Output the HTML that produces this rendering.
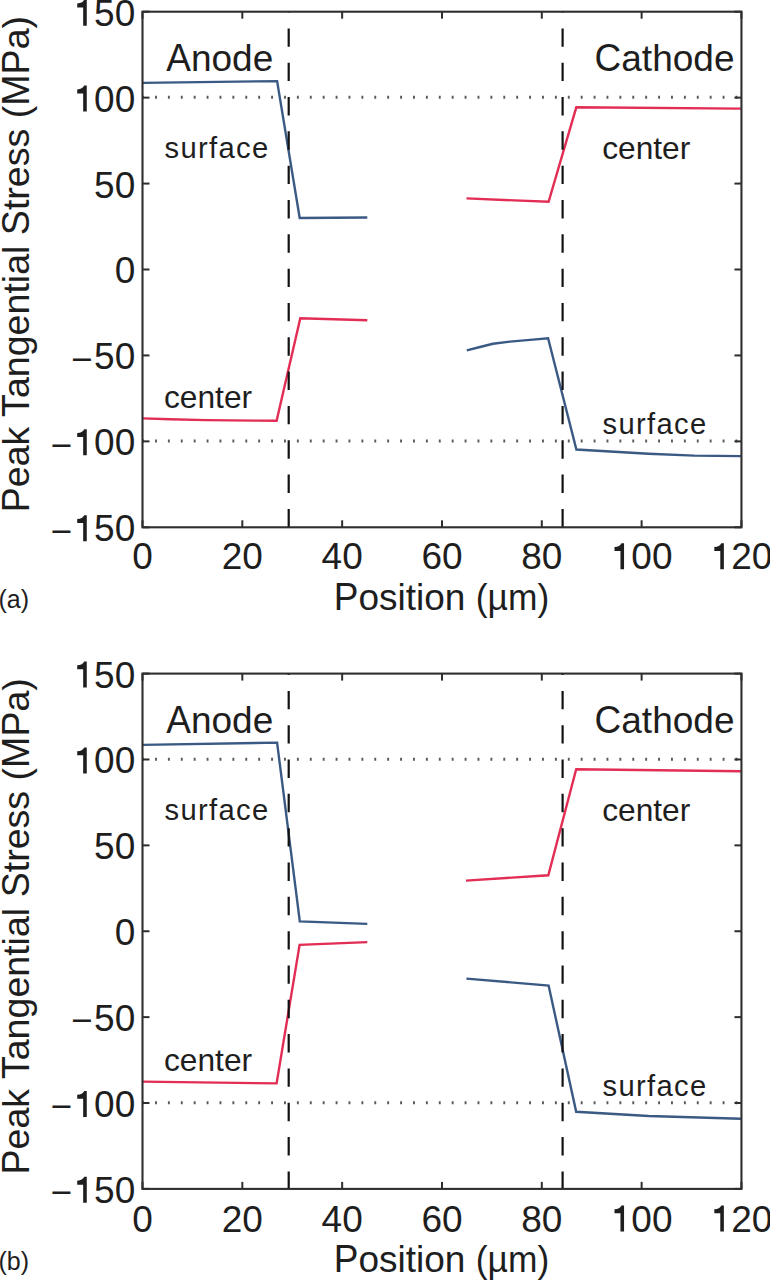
<!DOCTYPE html>
<html><head><meta charset="utf-8"><title>Peak Tangential Stress</title>
<style>
html,body{margin:0;padding:0;background:#fff;}
body{width:770px;height:1280px;overflow:hidden;}
svg{display:block;font-family:"Liberation Sans",sans-serif;fill:#000;}
svg text{fill:#1e1e1e;}
</style></head><body>
<svg width="770" height="1280" viewBox="0 0 770 1280">
<rect width="770" height="1280" fill="#fff"/>
<line x1="142.11" y1="97.33" x2="741.45" y2="97.33" stroke="#5a5a5a" stroke-width="3" stroke-dasharray="1.9 11"/>
<line x1="142.11" y1="441.07" x2="741.45" y2="441.07" stroke="#5a5a5a" stroke-width="3" stroke-dasharray="1.9 11"/>
<clipPath id="c0"><rect x="142.5" y="11.7" width="598.95" height="515.5999999999999"/></clipPath>
<path d="M142.4,82.9 L277.1,81.1 L299.7,218.0 L367.3,217.5" fill="none" stroke="#3a5a84" stroke-width="2.4" stroke-linejoin="miter"/>
<path d="M142.4,418.4 L170.0,419.3 L206.0,420.1 L256.0,420.6 L276.6,420.8 L300.3,318.2 L367.3,320.2" fill="none" stroke="#e22d55" stroke-width="2.4" stroke-linejoin="miter"/>
<path d="M466.5,198.4 L548.6,201.8 L576.3,107.3 L740.9,108.6" fill="none" stroke="#e22d55" stroke-width="2.4" stroke-linejoin="miter"/>
<path d="M466.8,350.3 L480.0,347.0 L493.0,343.8 L510.0,341.6 L530.0,339.9 L548.1,338.3 L576.4,449.5 L648.6,453.7 L694.3,455.6 L740.9,456.1" fill="none" stroke="#3a5a84" stroke-width="2.4" stroke-linejoin="miter"/>
<line x1="288.7" y1="-5.92" x2="288.7" y2="527.30" stroke="#111" stroke-width="2.2" stroke-dasharray="18.4 15.92" clip-path="url(#c0)"/>
<line x1="562.6" y1="-5.92" x2="562.6" y2="527.30" stroke="#111" stroke-width="2.2" stroke-dasharray="18.4 15.92" clip-path="url(#c0)"/>
<rect x="142.5" y="11.7" width="598.95" height="515.60" fill="none" stroke="#2e2e2e" stroke-width="2.1"/>
<line x1="142.50" y1="527.3" x2="142.50" y2="520.3" stroke="#2e2e2e" stroke-width="2"/>
<line x1="142.50" y1="11.7" x2="142.50" y2="18.7" stroke="#2e2e2e" stroke-width="2"/>
<line x1="142.5" y1="527.30" x2="149.5" y2="527.30" stroke="#2e2e2e" stroke-width="2"/>
<line x1="741.45" y1="527.30" x2="734.45" y2="527.30" stroke="#2e2e2e" stroke-width="2"/>
<line x1="242.32" y1="527.3" x2="242.32" y2="520.3" stroke="#2e2e2e" stroke-width="2"/>
<line x1="242.32" y1="11.7" x2="242.32" y2="18.7" stroke="#2e2e2e" stroke-width="2"/>
<line x1="142.5" y1="441.37" x2="149.5" y2="441.37" stroke="#2e2e2e" stroke-width="2"/>
<line x1="741.45" y1="441.37" x2="734.45" y2="441.37" stroke="#2e2e2e" stroke-width="2"/>
<line x1="342.15" y1="527.3" x2="342.15" y2="520.3" stroke="#2e2e2e" stroke-width="2"/>
<line x1="342.15" y1="11.7" x2="342.15" y2="18.7" stroke="#2e2e2e" stroke-width="2"/>
<line x1="142.5" y1="355.43" x2="149.5" y2="355.43" stroke="#2e2e2e" stroke-width="2"/>
<line x1="741.45" y1="355.43" x2="734.45" y2="355.43" stroke="#2e2e2e" stroke-width="2"/>
<line x1="441.98" y1="527.3" x2="441.98" y2="520.3" stroke="#2e2e2e" stroke-width="2"/>
<line x1="441.98" y1="11.7" x2="441.98" y2="18.7" stroke="#2e2e2e" stroke-width="2"/>
<line x1="142.5" y1="269.50" x2="149.5" y2="269.50" stroke="#2e2e2e" stroke-width="2"/>
<line x1="741.45" y1="269.50" x2="734.45" y2="269.50" stroke="#2e2e2e" stroke-width="2"/>
<line x1="541.80" y1="527.3" x2="541.80" y2="520.3" stroke="#2e2e2e" stroke-width="2"/>
<line x1="541.80" y1="11.7" x2="541.80" y2="18.7" stroke="#2e2e2e" stroke-width="2"/>
<line x1="142.5" y1="183.57" x2="149.5" y2="183.57" stroke="#2e2e2e" stroke-width="2"/>
<line x1="741.45" y1="183.57" x2="734.45" y2="183.57" stroke="#2e2e2e" stroke-width="2"/>
<line x1="641.62" y1="527.3" x2="641.62" y2="520.3" stroke="#2e2e2e" stroke-width="2"/>
<line x1="641.62" y1="11.7" x2="641.62" y2="18.7" stroke="#2e2e2e" stroke-width="2"/>
<line x1="142.5" y1="97.63" x2="149.5" y2="97.63" stroke="#2e2e2e" stroke-width="2"/>
<line x1="741.45" y1="97.63" x2="734.45" y2="97.63" stroke="#2e2e2e" stroke-width="2"/>
<line x1="741.45" y1="527.3" x2="741.45" y2="520.3" stroke="#2e2e2e" stroke-width="2"/>
<line x1="741.45" y1="11.7" x2="741.45" y2="18.7" stroke="#2e2e2e" stroke-width="2"/>
<line x1="142.5" y1="11.70" x2="149.5" y2="11.70" stroke="#2e2e2e" stroke-width="2"/>
<line x1="741.45" y1="11.70" x2="734.45" y2="11.70" stroke="#2e2e2e" stroke-width="2"/>
<path d="M0.262,0 L0.359,0 L0.359,0.703 L0.290,0.703 C0.262,0.640 0.200,0.608 0.101,0.600 L0.101,0.492 L0.262,0.492 Z" transform="translate(73.48,541.25) scale(37.0,-37.0)" fill="#1e1e1e"/>
<text x="94.06" y="541.25" font-size="37.0">5</text>
<text x="114.63" y="541.25" font-size="37.0">0</text>
<text x="72.08" y="543.65" text-anchor="end" font-size="37.0">−</text>
<text x="132.21" y="569.30" font-size="37.0">0</text>
<path d="M0.262,0 L0.359,0 L0.359,0.703 L0.290,0.703 C0.262,0.640 0.200,0.608 0.101,0.600 L0.101,0.492 L0.262,0.492 Z" transform="translate(73.48,455.31) scale(37.0,-37.0)" fill="#1e1e1e"/>
<text x="94.06" y="455.31" font-size="37.0">0</text>
<text x="114.63" y="455.31" font-size="37.0">0</text>
<text x="72.08" y="457.71" text-anchor="end" font-size="37.0">−</text>
<text x="221.75" y="569.30" font-size="37.0">2</text>
<text x="242.32" y="569.30" font-size="37.0">0</text>
<text x="94.06" y="369.38" font-size="37.0">5</text>
<text x="114.63" y="369.38" font-size="37.0">0</text>
<text x="92.66" y="371.78" text-anchor="end" font-size="37.0">−</text>
<text x="321.58" y="569.30" font-size="37.0">4</text>
<text x="342.15" y="569.30" font-size="37.0">0</text>
<text x="114.63" y="283.45" font-size="37.0">0</text>
<text x="421.40" y="569.30" font-size="37.0">6</text>
<text x="441.98" y="569.30" font-size="37.0">0</text>
<text x="94.06" y="197.51" font-size="37.0">5</text>
<text x="114.63" y="197.51" font-size="37.0">0</text>
<text x="521.23" y="569.30" font-size="37.0">8</text>
<text x="541.80" y="569.30" font-size="37.0">0</text>
<path d="M0.262,0 L0.359,0 L0.359,0.703 L0.290,0.703 C0.262,0.640 0.200,0.608 0.101,0.600 L0.101,0.492 L0.262,0.492 Z" transform="translate(73.48,111.58) scale(37.0,-37.0)" fill="#1e1e1e"/>
<text x="94.06" y="111.58" font-size="37.0">0</text>
<text x="114.63" y="111.58" font-size="37.0">0</text>
<path d="M0.262,0 L0.359,0 L0.359,0.703 L0.290,0.703 C0.262,0.640 0.200,0.608 0.101,0.600 L0.101,0.492 L0.262,0.492 Z" transform="translate(610.77,569.30) scale(37.0,-37.0)" fill="#1e1e1e"/>
<text x="631.34" y="569.30" font-size="37.0">0</text>
<text x="651.91" y="569.30" font-size="37.0">0</text>
<path d="M0.262,0 L0.359,0 L0.359,0.703 L0.290,0.703 C0.262,0.640 0.200,0.608 0.101,0.600 L0.101,0.492 L0.262,0.492 Z" transform="translate(73.48,25.65) scale(37.0,-37.0)" fill="#1e1e1e"/>
<text x="94.06" y="25.65" font-size="37.0">5</text>
<text x="114.63" y="25.65" font-size="37.0">0</text>
<path d="M0.262,0 L0.359,0 L0.359,0.703 L0.290,0.703 C0.262,0.640 0.200,0.608 0.101,0.600 L0.101,0.492 L0.262,0.492 Z" transform="translate(710.59,569.30) scale(37.0,-37.0)" fill="#1e1e1e"/>
<text x="731.16" y="569.30" font-size="37.0">2</text>
<text x="751.74" y="569.30" font-size="37.0">0</text>
<text x="333.8" y="609.50" font-size="37.0"><tspan font-size="38.11" textLength="24.68" lengthAdjust="spacingAndGlyphs">P</tspan>osition</text>
<text transform="translate(478.0,609.50) scale(0.956,1)" x="-2.3" y="0" font-size="37.0">(µm)</text>
<text transform="translate(28.9,264.10) rotate(-90)" x="-248.21 -223.15 -202.25 -181.35 -162.56 -152.80 -134.02 -113.12 -92.23 -71.32 -50.41 -29.52 -19.08 -10.73 10.17 18.52 28.97 54.03 64.47 76.98 97.87 116.67 135.46 145.91 158.41 189.72 214.78 235.67" y="0" font-size="37.6"><tspan font-size="39.10" textLength="25.08" lengthAdjust="spacingAndGlyphs">P</tspan>eak <tspan font-size="39.10" textLength="22.97" lengthAdjust="spacingAndGlyphs">T</tspan>angential <tspan font-size="39.10" textLength="25.08" lengthAdjust="spacingAndGlyphs">S</tspan>tress (<tspan font-size="39.10" textLength="31.32" lengthAdjust="spacingAndGlyphs">M</tspan><tspan font-size="39.10" textLength="25.08" lengthAdjust="spacingAndGlyphs">P</tspan>a)</text>
<text x="-1.6" y="607.60" font-size="25">(a)</text>
<text x="166.3" y="70.50" font-size="37.0"><tspan font-size="39.22" textLength="24.68" lengthAdjust="spacingAndGlyphs">A</tspan>node</text>
<text x="594.6" y="70.50" font-size="37.0"><tspan font-size="39.22" textLength="26.71" lengthAdjust="spacingAndGlyphs">C</tspan>athode</text>
<text x="164.6" y="157.70" font-size="29.2" letter-spacing="1.3">surface</text>
<text x="602.2" y="158.60" font-size="31.7">center</text>
<text x="164.0" y="408.40" font-size="31.7">center</text>
<text x="602.6" y="433.70" font-size="29.2" letter-spacing="1.3">surface</text>
<line x1="142.11" y1="759.18" x2="741.45" y2="759.18" stroke="#5a5a5a" stroke-width="3" stroke-dasharray="1.9 11"/>
<line x1="142.11" y1="1102.72" x2="741.45" y2="1102.72" stroke="#5a5a5a" stroke-width="3" stroke-dasharray="1.9 11"/>
<clipPath id="c1"><rect x="142.5" y="673.6" width="598.95" height="515.3000000000001"/></clipPath>
<path d="M142.4,744.9 L277.1,742.6 L299.8,921.4 L367.3,923.9" fill="none" stroke="#3a5a84" stroke-width="2.4" stroke-linejoin="miter"/>
<path d="M142.4,1081.6 L276.6,1083.4 L299.6,944.8 L367.3,942.1" fill="none" stroke="#e22d55" stroke-width="2.4" stroke-linejoin="miter"/>
<path d="M466.0,880.6 L548.3,875.3 L576.2,769.2 L740.9,771.2" fill="none" stroke="#e22d55" stroke-width="2.4" stroke-linejoin="miter"/>
<path d="M466.4,978.6 L548.6,985.6 L576.2,1111.8 L648.6,1116.0 L740.9,1118.7" fill="none" stroke="#3a5a84" stroke-width="2.4" stroke-linejoin="miter"/>
<line x1="288.7" y1="656.58" x2="288.7" y2="1188.90" stroke="#111" stroke-width="2.2" stroke-dasharray="18.4 15.92" clip-path="url(#c1)"/>
<line x1="562.6" y1="656.58" x2="562.6" y2="1188.90" stroke="#111" stroke-width="2.2" stroke-dasharray="18.4 15.92" clip-path="url(#c1)"/>
<rect x="142.5" y="673.6" width="598.95" height="515.30" fill="none" stroke="#2e2e2e" stroke-width="2.1"/>
<line x1="142.50" y1="1188.9" x2="142.50" y2="1181.9" stroke="#2e2e2e" stroke-width="2"/>
<line x1="142.50" y1="673.6" x2="142.50" y2="680.6" stroke="#2e2e2e" stroke-width="2"/>
<line x1="142.5" y1="1188.90" x2="149.5" y2="1188.90" stroke="#2e2e2e" stroke-width="2"/>
<line x1="741.45" y1="1188.90" x2="734.45" y2="1188.90" stroke="#2e2e2e" stroke-width="2"/>
<line x1="242.32" y1="1188.9" x2="242.32" y2="1181.9" stroke="#2e2e2e" stroke-width="2"/>
<line x1="242.32" y1="673.6" x2="242.32" y2="680.6" stroke="#2e2e2e" stroke-width="2"/>
<line x1="142.5" y1="1103.02" x2="149.5" y2="1103.02" stroke="#2e2e2e" stroke-width="2"/>
<line x1="741.45" y1="1103.02" x2="734.45" y2="1103.02" stroke="#2e2e2e" stroke-width="2"/>
<line x1="342.15" y1="1188.9" x2="342.15" y2="1181.9" stroke="#2e2e2e" stroke-width="2"/>
<line x1="342.15" y1="673.6" x2="342.15" y2="680.6" stroke="#2e2e2e" stroke-width="2"/>
<line x1="142.5" y1="1017.13" x2="149.5" y2="1017.13" stroke="#2e2e2e" stroke-width="2"/>
<line x1="741.45" y1="1017.13" x2="734.45" y2="1017.13" stroke="#2e2e2e" stroke-width="2"/>
<line x1="441.98" y1="1188.9" x2="441.98" y2="1181.9" stroke="#2e2e2e" stroke-width="2"/>
<line x1="441.98" y1="673.6" x2="441.98" y2="680.6" stroke="#2e2e2e" stroke-width="2"/>
<line x1="142.5" y1="931.25" x2="149.5" y2="931.25" stroke="#2e2e2e" stroke-width="2"/>
<line x1="741.45" y1="931.25" x2="734.45" y2="931.25" stroke="#2e2e2e" stroke-width="2"/>
<line x1="541.80" y1="1188.9" x2="541.80" y2="1181.9" stroke="#2e2e2e" stroke-width="2"/>
<line x1="541.80" y1="673.6" x2="541.80" y2="680.6" stroke="#2e2e2e" stroke-width="2"/>
<line x1="142.5" y1="845.37" x2="149.5" y2="845.37" stroke="#2e2e2e" stroke-width="2"/>
<line x1="741.45" y1="845.37" x2="734.45" y2="845.37" stroke="#2e2e2e" stroke-width="2"/>
<line x1="641.62" y1="1188.9" x2="641.62" y2="1181.9" stroke="#2e2e2e" stroke-width="2"/>
<line x1="641.62" y1="673.6" x2="641.62" y2="680.6" stroke="#2e2e2e" stroke-width="2"/>
<line x1="142.5" y1="759.48" x2="149.5" y2="759.48" stroke="#2e2e2e" stroke-width="2"/>
<line x1="741.45" y1="759.48" x2="734.45" y2="759.48" stroke="#2e2e2e" stroke-width="2"/>
<line x1="741.45" y1="1188.9" x2="741.45" y2="1181.9" stroke="#2e2e2e" stroke-width="2"/>
<line x1="741.45" y1="673.6" x2="741.45" y2="680.6" stroke="#2e2e2e" stroke-width="2"/>
<line x1="142.5" y1="673.60" x2="149.5" y2="673.60" stroke="#2e2e2e" stroke-width="2"/>
<line x1="741.45" y1="673.60" x2="734.45" y2="673.60" stroke="#2e2e2e" stroke-width="2"/>
<path d="M0.262,0 L0.359,0 L0.359,0.703 L0.290,0.703 C0.262,0.640 0.200,0.608 0.101,0.600 L0.101,0.492 L0.262,0.492 Z" transform="translate(73.48,1202.85) scale(37.0,-37.0)" fill="#1e1e1e"/>
<text x="94.06" y="1202.85" font-size="37.0">5</text>
<text x="114.63" y="1202.85" font-size="37.0">0</text>
<text x="72.08" y="1205.25" text-anchor="end" font-size="37.0">−</text>
<text x="132.21" y="1231.50" font-size="37.0">0</text>
<path d="M0.262,0 L0.359,0 L0.359,0.703 L0.290,0.703 C0.262,0.640 0.200,0.608 0.101,0.600 L0.101,0.492 L0.262,0.492 Z" transform="translate(73.48,1116.96) scale(37.0,-37.0)" fill="#1e1e1e"/>
<text x="94.06" y="1116.96" font-size="37.0">0</text>
<text x="114.63" y="1116.96" font-size="37.0">0</text>
<text x="72.08" y="1119.36" text-anchor="end" font-size="37.0">−</text>
<text x="221.75" y="1231.50" font-size="37.0">2</text>
<text x="242.32" y="1231.50" font-size="37.0">0</text>
<text x="94.06" y="1031.08" font-size="37.0">5</text>
<text x="114.63" y="1031.08" font-size="37.0">0</text>
<text x="92.66" y="1033.48" text-anchor="end" font-size="37.0">−</text>
<text x="321.58" y="1231.50" font-size="37.0">4</text>
<text x="342.15" y="1231.50" font-size="37.0">0</text>
<text x="114.63" y="945.20" font-size="37.0">0</text>
<text x="421.40" y="1231.50" font-size="37.0">6</text>
<text x="441.98" y="1231.50" font-size="37.0">0</text>
<text x="94.06" y="859.31" font-size="37.0">5</text>
<text x="114.63" y="859.31" font-size="37.0">0</text>
<text x="521.23" y="1231.50" font-size="37.0">8</text>
<text x="541.80" y="1231.50" font-size="37.0">0</text>
<path d="M0.262,0 L0.359,0 L0.359,0.703 L0.290,0.703 C0.262,0.640 0.200,0.608 0.101,0.600 L0.101,0.492 L0.262,0.492 Z" transform="translate(73.48,773.43) scale(37.0,-37.0)" fill="#1e1e1e"/>
<text x="94.06" y="773.43" font-size="37.0">0</text>
<text x="114.63" y="773.43" font-size="37.0">0</text>
<path d="M0.262,0 L0.359,0 L0.359,0.703 L0.290,0.703 C0.262,0.640 0.200,0.608 0.101,0.600 L0.101,0.492 L0.262,0.492 Z" transform="translate(610.77,1231.50) scale(37.0,-37.0)" fill="#1e1e1e"/>
<text x="631.34" y="1231.50" font-size="37.0">0</text>
<text x="651.91" y="1231.50" font-size="37.0">0</text>
<path d="M0.262,0 L0.359,0 L0.359,0.703 L0.290,0.703 C0.262,0.640 0.200,0.608 0.101,0.600 L0.101,0.492 L0.262,0.492 Z" transform="translate(73.48,687.55) scale(37.0,-37.0)" fill="#1e1e1e"/>
<text x="94.06" y="687.55" font-size="37.0">5</text>
<text x="114.63" y="687.55" font-size="37.0">0</text>
<path d="M0.262,0 L0.359,0 L0.359,0.703 L0.290,0.703 C0.262,0.640 0.200,0.608 0.101,0.600 L0.101,0.492 L0.262,0.492 Z" transform="translate(710.59,1231.50) scale(37.0,-37.0)" fill="#1e1e1e"/>
<text x="731.16" y="1231.50" font-size="37.0">2</text>
<text x="751.74" y="1231.50" font-size="37.0">0</text>
<text x="333.8" y="1271.70" font-size="37.0"><tspan font-size="38.11" textLength="24.68" lengthAdjust="spacingAndGlyphs">P</tspan>osition</text>
<text transform="translate(478.0,1271.70) scale(0.956,1)" x="-2.3" y="0" font-size="37.0">(µm)</text>
<text transform="translate(28.9,926.30) rotate(-90)" x="-248.21 -223.15 -202.25 -181.35 -162.56 -152.80 -134.02 -113.12 -92.23 -71.32 -50.41 -29.52 -19.08 -10.73 10.17 18.52 28.97 54.03 64.47 76.98 97.87 116.67 135.46 145.91 158.41 189.72 214.78 235.67" y="0" font-size="37.6"><tspan font-size="39.10" textLength="25.08" lengthAdjust="spacingAndGlyphs">P</tspan>eak <tspan font-size="39.10" textLength="22.97" lengthAdjust="spacingAndGlyphs">T</tspan>angential <tspan font-size="39.10" textLength="25.08" lengthAdjust="spacingAndGlyphs">S</tspan>tress (<tspan font-size="39.10" textLength="31.32" lengthAdjust="spacingAndGlyphs">M</tspan><tspan font-size="39.10" textLength="25.08" lengthAdjust="spacingAndGlyphs">P</tspan>a)</text>
<text x="-1.6" y="1269.80" font-size="25">(b)</text>
<text x="166.3" y="732.70" font-size="37.0"><tspan font-size="39.22" textLength="24.68" lengthAdjust="spacingAndGlyphs">A</tspan>node</text>
<text x="594.6" y="732.70" font-size="37.0"><tspan font-size="39.22" textLength="26.71" lengthAdjust="spacingAndGlyphs">C</tspan>athode</text>
<text x="164.6" y="819.90" font-size="29.2" letter-spacing="1.3">surface</text>
<text x="602.2" y="820.80" font-size="31.7">center</text>
<text x="164.0" y="1070.60" font-size="31.7">center</text>
<text x="602.6" y="1095.90" font-size="29.2" letter-spacing="1.3">surface</text>
</svg>
</body></html>
